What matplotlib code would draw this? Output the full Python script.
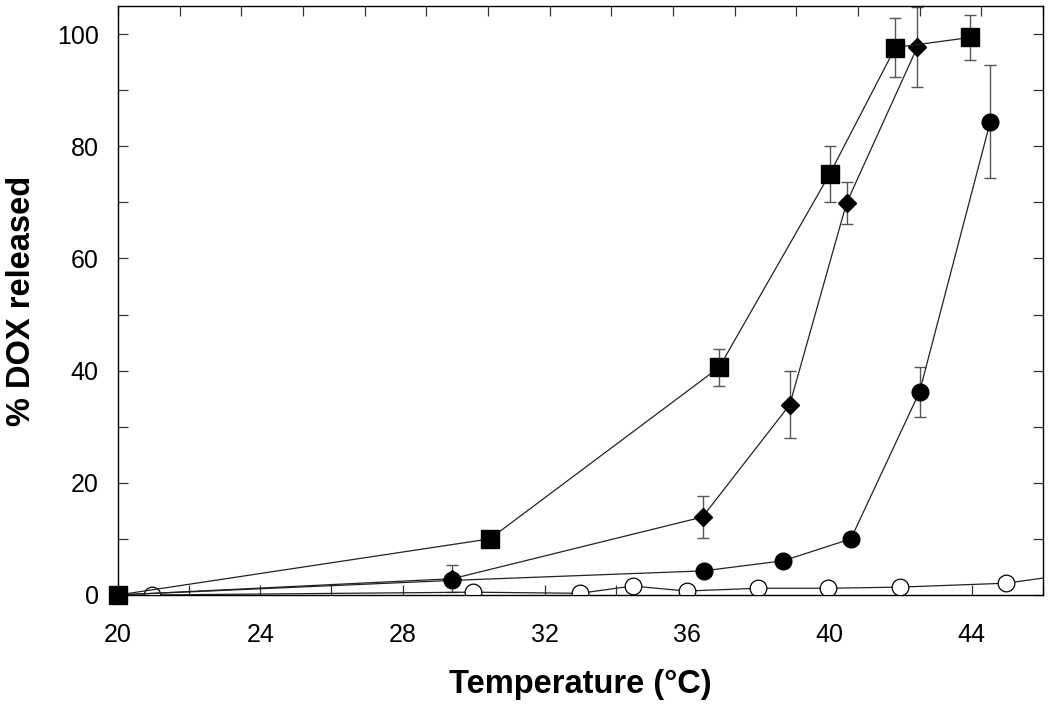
import numpy as np
import matplotlib.pyplot as plt

# ---- data ----
sq_t = [20, 30.45, 36.9, 40.0, 41.85, 43.96]
sq_y = [0, 10.0, 40.6, 75.0, 97.6, 99.4]
sq_e = [0, 0, 3.3, 5.0, 5.2, 4.0]

dm_t = [20, 29.4, 36.43, 38.88, 40.48, 42.47]
dm_y = [0, 2.9, 13.9, 33.9, 69.9, 97.7]
dm_e = [0, 2.4, 3.7, 6.0, 3.8, 7.1]

ci_t = [20, 29.4, 36.46, 38.7, 40.6, 42.53, 44.52]
ci_y = [0, 2.6, 4.3, 6.1, 10.0, 36.2, 84.4]
ci_e = [0, 0, 0, 0, 0, 4.4, 10.0]

oc_t = [20.96, 29.97, 32.98, 34.47, 35.98, 37.98, 39.97, 41.97, 44.97, 47.0]
oc_y = [0, 0.5, 0.3, 1.6, 0.7, 1.2, 1.2, 1.4, 2.1, 3.9]

plt.rcParams['font.family'] = ['Liberation Sans', 'DejaVu Sans']

fig = plt.figure(figsize=(10.5, 7.1), dpi=100)
ax = fig.add_axes([0.1124, 0.162, 0.8809, 0.8295])

ebar_kw = dict(ecolor='#555555', elinewidth=1.0, capsize=4, capthick=1.0)
line_kw = dict(color='#222222', linewidth=0.9)

ax.plot(oc_t, oc_y, marker='o', markersize=12, markerfacecolor='white',
        markeredgecolor='black', markeredgewidth=0.9, zorder=3, **line_kw)

ax.errorbar(ci_t, ci_y, yerr=ci_e, fmt='none', zorder=2, **ebar_kw)
ax.plot(ci_t, ci_y, marker='o', markersize=12, markerfacecolor='black',
        markeredgecolor='black', zorder=4, **line_kw)

ax.errorbar(dm_t, dm_y, yerr=dm_e, fmt='none', zorder=2, **ebar_kw)
ax.plot(dm_t, dm_y, marker='D', markersize=9, markerfacecolor='black',
        markeredgecolor='black', zorder=4, **line_kw)

ax.errorbar(sq_t, sq_y, yerr=sq_e, fmt='none', zorder=2, **ebar_kw)
ax.plot(sq_t, sq_y, marker='s', markersize=12.5, markerfacecolor='black',
        markeredgecolor='black', zorder=5, clip_on=False, **line_kw)

ax.set_xlim(20, 46)
ax.set_ylim(0, 105)
ax.set_xticks([20, 24, 28, 32, 36, 40, 44])
ax.set_xticks(np.arange(20, 47, 2), minor=True)
ax.set_yticks([0, 20, 40, 60, 80, 100])
ax.set_yticks(np.arange(0, 106, 10), minor=True)

for s in ax.spines.values():
    s.set_color('#333333')
    s.set_linewidth(1.0)

ax.tick_params(axis='both', which='both', direction='in', length=7,
               width=0.9, color='#333333', labelsize=18)
ax.tick_params(axis='x', which='both', bottom=True, top=False, pad=20)
ax.tick_params(axis='y', which='both', left=True, right=True, pad=14)

# top axis ticks (unlabelled)
axt = ax.twiny()
axt.set_xlim(20, 46)
axt.set_xticks(np.linspace(20, 46, 16))
axt.tick_params(axis='x', direction='in', length=7, width=0.9,
                color='#333333', labeltop=False)

ax.set_xlabel('Temperature (°C)', fontsize=23.5, fontweight='bold', labelpad=16)
ax.set_ylabel('% DOX released', fontsize=23.5, fontweight='bold', labelpad=14)

fig.savefig('out.png', dpi=100)
